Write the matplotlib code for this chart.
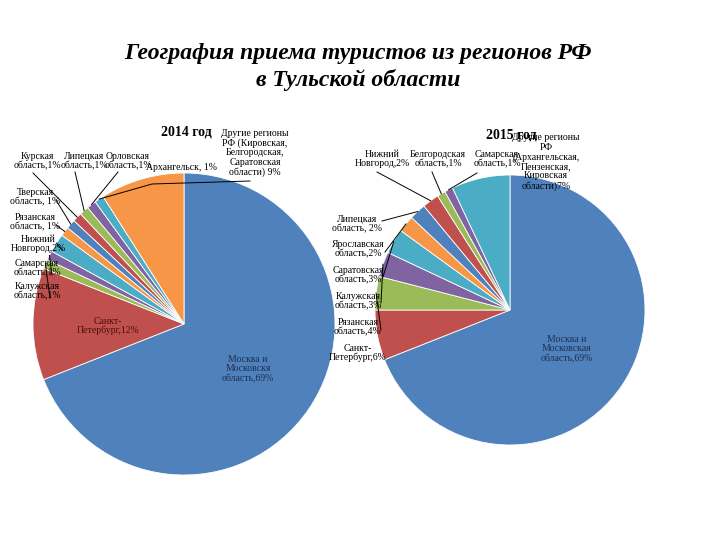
import numpy as np
import matplotlib.pyplot as plt

plt.rcParams['font.family'] = ['Liberation Serif', 'DejaVu Serif']

# Excel-style palette, cycled over slices
colors6 = ['#4F81BD', '#C0504D', '#9BBB59', '#8064A2', '#4BACC6', '#F79646']

labels_2014 = ["Москва и\nМосковскя\nобласть,69%", "Санкт-\nПетербург,12%",
               "Калужская\nобласть,1%", "Самарская\nобласть,1%",
               "Нижний\nНовгород,2%", "Рязанская\nобласть, 1%",
               "Тверская\nобласть, 1%", "Курская\nобласть,1%",
               "Липецкая\nобласть,1%", "Орловская\nобласть,1%",
               "Архангельск, 1%",
               "Другие регионы\nРФ (Кировская,\nБелгородская,\nСаратовская\nобласти) 9%"]
values_2014 = [69, 12, 1, 1, 2, 1, 1, 1, 1, 1, 1, 9]

labels_2015 = ["Москва и\nМосковская\nобласть,69%", "Санкт-\nПетербург,6%",
               "Рязанская\nобласть,4%", "Калужская\nобласть,3%",
               "Саратовская\nобласть,3%", "Ярославская\nобласть,2%",
               "Липецкая\nобласть, 2%", "Нижний\nНовгород,2%",
               "Белгородская\nобласть,1%", "Самарская\nобласть,1%",
               "Другие регионы\nРФ\n(Архангельская,\nПензенская,\nКировская\nобласти)7%"]
values_2015 = [69, 6, 4, 3, 3, 2, 2, 2, 1, 1, 7]

# layout (pixel coordinates, y down)
pos_2014 = [(248, 369), (108, 326), (37, 291), (37, 268), (38, 244), (35, 222),
            (35, 197), (37, 161), (84, 161), (128, 161), (182, 167), (255, 153)]
lead_2014 = [None, None, [(50, 298)], [(52, 275)], [(62, 250)], [(56, 225)],
             [(56, 200)], [(33, 173)], [(75, 172)], [(118, 172)],
             [(250, 181), (152, 184)], None]
pos_2015 = [(567, 349), (358, 353), (358, 327), (358, 301), (358, 275), (358, 249),
            (357, 224), (382, 159), (438, 159), (497, 159), (546, 162)]
lead_2015 = [None, None, [(381, 330)], [(381, 303)], [(383, 277)], [(385, 252)],
             [(382, 221)], [(377, 172)], [(432, 172)], [(477, 173)], None]

fig = plt.figure(figsize=(7.2, 5.4), dpi=100)
ax = fig.add_axes([0, 0, 1, 1])
ax.set_xlim(0, 720)
ax.set_ylim(540, 0)
ax.set_aspect('equal')
ax.axis('off')

def draw_pie(values, labels, center, radius, pos, leads, inner_colors):
    cols = [colors6[i % 6] for i in range(len(values))]
    # y axis is inverted: start at -90 and go "counterclock" to get clockwise from top
    ax.pie(values, colors=cols, startangle=-90, counterclock=True,
           center=center, radius=radius, frame=True,
           wedgeprops=dict(edgecolor='white', linewidth=0.6))
    total = float(sum(values))
    cum = np.cumsum([0] + list(values))
    for i, lab in enumerate(labels):
        x, y = pos[i]
        col = inner_colors.get(i, 'black')
        ax.text(x, y, lab, ha='center', va='center', fontsize=7, color=col,
                linespacing=1.05)
        if leads[i] is not None:
            mid = np.deg2rad(-90 + 360 * (cum[i] + cum[i + 1]) / 2 / total)
            ex = center[0] + radius * np.cos(mid)
            ey = center[1] + radius * np.sin(mid)
            pts = leads[i] + [(ex, ey)]
            ax.plot([p[0] for p in pts], [p[1] for p in pts], color='black', lw=0.7)

draw_pie(values_2014, labels_2014, (184, 324), 151, pos_2014, lead_2014,
         {0: '#1f2f4f', 1: '#4a0f0f'})
draw_pie(values_2015, labels_2015, (510, 310), 135, pos_2015, lead_2015,
         {0: '#1f2f4f'})

ax.text(186, 132, "2014 год", ha='center', va='center', fontsize=10, fontweight='bold')
ax.text(511, 135, "2015 год", ha='center', va='center', fontsize=10, fontweight='bold')

ax.text(358, 53, "География приема туристов из регионов РФ", ha='center', va='center',
        fontsize=17, fontweight='bold', fontstyle='italic')
ax.text(358, 80, "в Тульской области", ha='center', va='center',
        fontsize=17, fontweight='bold', fontstyle='italic')

fig.savefig('out.png', dpi=100, facecolor='white')
